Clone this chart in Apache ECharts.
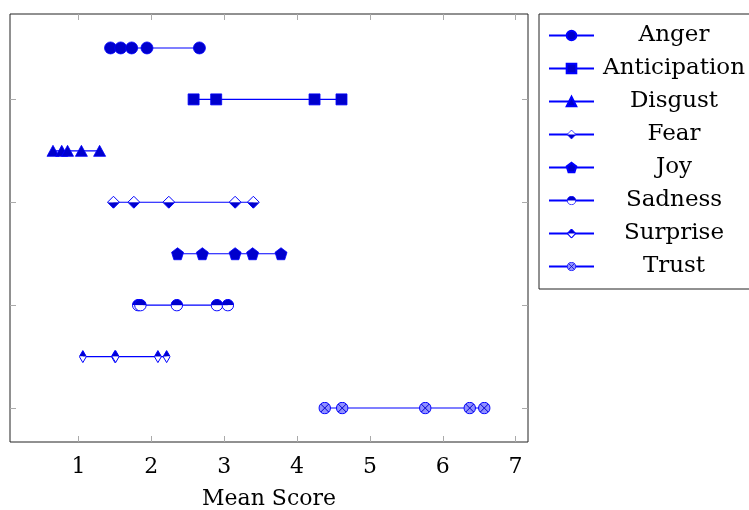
<!DOCTYPE html>
<html lang="en">

<head>
    <meta charset="UTF-8">
    <title>Mean Score</title>
    <script src="https://cdn.jsdelivr.net/npm/echarts@6/dist/echarts.min.js"></script>
    <style>
        body { margin: 0; background: #fff; }
        #main { width: 749px; height: 510px; }
    </style>
</head>

<body>
    <div id="main"></div>
    <script>
        // emotions, top to bottom
        var categories = ['Anger', 'Anticipation', 'Disgust', 'Fear', 'Joy', 'Sadness', 'Surprise', 'Trust'];

        // mean scores per emotion
        var anger = [1.44, 1.58, 1.73, 1.94, 2.66];
        var anticipation = [2.58, 2.89, 4.24, 4.61];
        var disgust = [0.65, 0.77, 0.85, 1.04, 1.29];
        var fear = [1.48, 1.76, 2.24, 3.15, 3.40];
        var joy = [2.36, 2.70, 3.15, 3.39, 3.78];
        var sadness = [1.82, 1.85, 2.35, 2.90, 3.05];
        var surprise = [1.06, 1.50, 1.51, 2.09, 2.21];
        var trust = [4.38, 4.62, 5.76, 6.37, 6.57];

        var xTicks = [1, 2, 3, 4, 5, 6, 7];
        var yTicks = [1, 3, 5, 7];

        var allValues = [anger, anticipation, disgust, fear, joy, sadness, surprise, trust];

        var FILL = '#0000cc';
        var LINE = '#0000ff';
        var FONT = 'DejaVu Serif';

        function svgSymbol(w, h, body) {
            var svg = '<svg xmlns="http://www.w3.org/2000/svg" width="' + w + '" height="' + h +
                '" viewBox="0 0 ' + w + ' ' + h + '">' + body + '</svg>';
            return 'image://data:image/svg+xml;charset=utf-8,' + encodeURIComponent(svg);
        }

        // half filled diamond, bottom half filled
        var fearSymbol = svgSymbol(26, 26,
            '<path d="M1,13 L25,13 L13,25 Z" fill="' + FILL + '"/>' +
            '<path d="M1,13 L13,1 L25,13 Z" fill="#fff"/>' +
            '<path d="M13,1 L25,13 L13,25 L1,13 Z" fill="none" stroke="' + LINE + '" stroke-width="2"/>');
        // half filled circle, top half filled
        var sadnessSymbol = svgSymbol(26, 26,
            '<path d="M1.5,13 A11.5,11.5 0 0 1 24.5,13 Z" fill="' + FILL + '"/>' +
            '<path d="M1.5,13 A11.5,11.5 0 0 0 24.5,13 Z" fill="#fff"/>' +
            '<circle cx="13" cy="13" r="11.5" fill="none" stroke="' + LINE + '" stroke-width="2"/>');
        // thin diamond, top half filled
        var surpriseSymbol = svgSymbol(16, 26,
            '<path d="M1,13 L8,1 L15,13 Z" fill="' + FILL + '"/>' +
            '<path d="M1,13 L8,25 L15,13 Z" fill="#fff"/>' +
            '<path d="M8,1 L15,13 L8,25 L1,13 Z" fill="none" stroke="' + LINE + '" stroke-width="2"/>');
        // circled cross
        var trustSymbol = svgSymbol(26, 26,
            '<circle cx="13" cy="13" r="11.5" fill="#9090ff" stroke="' + LINE + '" stroke-width="2"/>' +
            '<path d="M5,5 L21,21 M21,5 L5,21" stroke="' + FILL + '" stroke-width="2"/>');

        var pentagon = 'path://M0,-1 L0.951,-0.309 L0.588,0.809 L-0.588,0.809 L-0.951,-0.309 Z';

        var symbols = ['circle', 'rect', 'triangle', fearSymbol, pentagon, sadnessSymbol, surpriseSymbol, trustSymbol];
        var sizes = [12, 11, [12, 11], 13, 12, 13, [8, 13], 13];

        var series = categories.map(function (name, i) {
            var y = categories.length - i;
            return {
                name: name,
                type: 'line',
                data: allValues[i].map(function (v) { return [v, y]; }),
                symbol: symbols[i],
                symbolSize: sizes[i],
                showAllSymbol: true,
                lineStyle: { color: LINE, width: 1.1 },
                itemStyle: { color: FILL, borderColor: LINE, borderWidth: 0.8, opacity: 1 },
                emphasis: { disabled: true },
                animation: false
            };
        });

        var tickStyle = { lineStyle: { color: '#aaa', width: 1 } };

        var myChart = echarts.init(document.getElementById('main'));

        var option = {
            backgroundColor: '#fff',
            textStyle: { fontFamily: FONT },
            grid: {
                left: 10,
                right: 221,
                top: 14,
                bottom: 68,
                outerBoundsMode: 'none',
                containLabel: false,
                show: true,
                borderColor: '#222',
                borderWidth: 1
            },
            legend: {
                orient: 'vertical',
                left: 539,
                top: 14,
                padding: [10, 10, 11, 9],
                itemWidth: 45,
                itemHeight: 12,
                itemGap: 10,
                borderColor: '#222',
                borderWidth: 1,
                data: categories,
                formatter: function (name) { return '{t|' + name + '}'; },
                textStyle: {
                    fontFamily: FONT,
                    rich: {
                        t: { width: 150, align: 'center', fontSize: 23, lineHeight: 23, color: '#000', fontFamily: FONT }
                    }
                }
            },
            xAxis: [{
                type: 'value',
                position: 'bottom',
                min: 0.06,
                max: 7.17,
                name: 'Mean Score',
                nameLocation: 'middle',
                nameGap: 46,
                nameTextStyle: { fontSize: 22, color: '#000', fontFamily: FONT },
                axisLine: { show: false },
                splitLine: { show: false },
                axisTick: Object.assign({ inside: true, length: 6, customValues: xTicks }, tickStyle),
                axisLabel: { customValues: xTicks, fontSize: 22, color: '#000', margin: 14, fontFamily: FONT }
            }, {
                type: 'value',
                position: 'top',
                min: 0.06,
                max: 7.17,
                axisLine: { show: false },
                splitLine: { show: false },
                axisTick: Object.assign({ inside: true, length: 6, customValues: xTicks }, tickStyle),
                axisLabel: { show: false }
            }],
            yAxis: [{
                type: 'value',
                position: 'left',
                min: 0.34,
                max: 8.66,
                axisLine: { show: false },
                splitLine: { show: false },
                axisTick: Object.assign({ inside: true, length: 6, customValues: yTicks }, tickStyle),
                axisLabel: { show: false }
            }, {
                type: 'value',
                position: 'right',
                min: 0.34,
                max: 8.66,
                axisLine: { show: false },
                splitLine: { show: false },
                axisTick: Object.assign({ inside: true, length: 6, customValues: yTicks }, tickStyle),
                axisLabel: { show: false }
            }],
            series: series
        };

        myChart.setOption(option);
    </script>
</body>

</html>
